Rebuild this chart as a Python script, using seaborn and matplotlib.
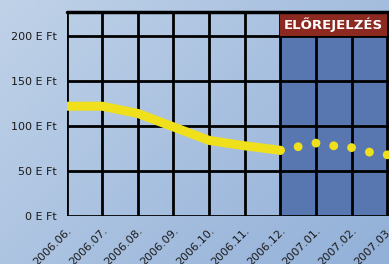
import numpy as np
import pandas as pd
import matplotlib
matplotlib.use('Agg')
import matplotlib.pyplot as plt
import matplotlib.transforms as mtransforms
from matplotlib.patches import Rectangle
import seaborn as sns

# months on the x axis
months = ['2006.06.', '2006.07.', '2006.08.', '2006.09.', '2006.10.',
          '2006.11.', '2006.12.', '2007.01.', '2007.02.', '2007.03.']
# actual values (billion Ft) per month
actual = [122, 122, 114, 99, 84, 78, 73]
# forecast values, every half month from 2006.12.
forecast = [73, 77, 81, 78, 76, 71, 68]
yticks = [0, 50, 100, 150, 200]
ylabels = ['0 E Ft', '50 E Ft', '100 E Ft', '150 E Ft', '200 E Ft']
badge = 'ELŐREJELZÉS'

dfA = pd.DataFrame({'x': np.arange(len(actual)), 'v': actual})
dfF = pd.DataFrame({'x': len(actual) - 1 + np.arange(len(forecast)) / 2, 'v': forecast})

sns.set_style('white')
plt.rcParams['font.family'] = ['Liberation Sans Narrow', 'DejaVu Sans']

fig = plt.figure(figsize=(3.89, 2.64), dpi=100)

# background gradient
bg = fig.add_axes([0, 0, 1, 1])
gx, gy = np.meshgrid(np.linspace(0, 1, 200), np.linspace(0, 1, 200))
g = (gx * 0.6 + gy * 0.4)
c1 = np.array([0xc0, 0xd2, 0xe8]) / 255
c2 = np.array([0x92, 0xb0, 0xd8]) / 255
img = c1[None, None, :] * (1 - g[..., None]) + c2[None, None, :] * g[..., None]
bg.imshow(img, aspect='auto', extent=[0, 1, 0, 1])
bg.axis('off')

ax = fig.add_axes([66.5 / 389, 1 - 216 / 264, 1 - 66.5 / 389, (216 - 12) / 264])
ax.patch.set_alpha(0)
ax.set_xlim(0, 9.05)
ax.set_ylim(0, 226.7)

# forecast region
ax.axvspan(6, 9.05, color='#5877b0', zorder=0, lw=0)

for i in range(len(months)):
    ax.axvline(i, color='black', lw=2, zorder=1)
for t in yticks:
    ax.axhline(t, color='black', lw=2, zorder=1)

sns.lineplot(data=dfA, x='x', y='v', ax=ax, color='#f0e01c', lw=6.5,
             solid_capstyle='round', solid_joinstyle='round', zorder=3)
sns.scatterplot(data=dfF, x='x', y='v', ax=ax, color='#f0e01c', s=40,
                edgecolor='none', zorder=3)

# badge box at top of forecast region
trans = mtransforms.blended_transform_factory(ax.transData, ax.transAxes)
ax.add_patch(Rectangle((6, 0.882), 2.98, 0.113, transform=trans,
                       facecolor='#8c2a22', edgecolor='none', zorder=4, clip_on=False))
ax.text(7.49, 0.938, badge, transform=trans, ha='center', va='center',
        color='white', fontsize=9.5, fontweight='bold', zorder=5)

ax.axhline(226.7, color='black', lw=2.5, zorder=4, clip_on=False)

ax.set_yticks(yticks)
ax.set_yticklabels(ylabels, fontsize=8, color='#1a1a1a')
ax.set_xticks(range(len(months)))
ax.set_xticklabels(months, rotation=45, ha='right', rotation_mode='anchor',
                   fontsize=8, color='#1a1a1a')
ax.tick_params(axis='both', length=5, width=2, color='black', pad=2)
ax.set_xlabel('')
ax.set_ylabel('')
for s in ax.spines.values():
    s.set_visible(False)

fig.savefig('out.png', dpi=100)
